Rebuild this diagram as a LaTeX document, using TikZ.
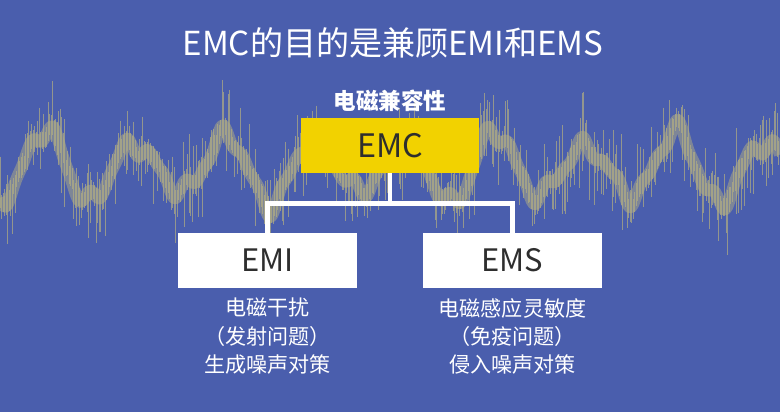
\documentclass[tikz,border=0pt]{standalone}
\usepackage{fontspec}
\setmainfont{Noto Sans CJK SC}
\usetikzlibrary{positioning}
\definecolor{bgblue}{HTML}{4A5EAD}
\definecolor{emcyellow}{HTML}{F2D200}
\definecolor{wavekhaki}{HTML}{B3AE82}
\definecolor{boxtext}{HTML}{2E2E2E}
\tikzset{every node/.style={align=center},
  box/.style={minimum width=4.45cm, minimum height=1.38cm, inner sep=0pt, text=boxtext, font=\fontsize{22pt}{24pt}\selectfont},
  link/.style={draw=white, line width=3.5pt},
  wave/.style={draw=wavekhaki, line width=0.55pt, opacity=0.7},
  band/.style={draw=wavekhaki, line width=0.3cm, opacity=0.5, line join=round},
  note/.style={text=white, font=\fontsize{15pt}{20pt}\selectfont}}
\newcommand{\sig}[1]{168+35*cos(4*#1)*(0.85+0.25*sin(1.7*#1))+7*sin(11*#1)+4*sin(19*#1)}

\begin{document}
\begin{tikzpicture}[x=0.025cm, y=-0.025cm]
            \useasboundingbox (0,0) rectangle (780,412);
            \fill[bgblue] (0,0) rectangle (780,412);
            % noisy signal behind the boxes
            \draw[band] plot[domain=0:780, samples=400] (\x, {\sig{\x}});
            \pgfmathsetseed{11}
            \foreach \i in {0,1.5,...,780}{
                \pgfmathsetmacro\yc{\sig{\i}+6*(rnd-0.5)}
                \pgfmathsetmacro\up{8+40*rnd^3}
                \pgfmathsetmacro\dn{8+40*rnd^3}
                \draw[wave] (\i,\yc-\up) -- (\i,\yc+\dn);
            }
            \node (title) [text=white, font=\fontsize{23.5pt}{26pt}\selectfont] at (393,43) {EMC的目的是兼顾EMI和EMS};
            \node [box, fill=emcyellow, font=\fontsize{23pt}{25pt}\selectfont] (emc) at (390,145.5) {EMC};
            \node (emcname) [above=0.03cm of emc, text=white, font=\bfseries\fontsize{16pt}{18pt}\selectfont] {电磁兼容性};
            \node [box, fill=white] (emi) at (267.5,260.5) {EMI};
            \node [box, fill=white] (ems) at (512.5,260.5) {EMS};
            \path[link] (emc.south) -- ++(0,30) -| (emi.north)
                (emc.south) -- ++(0,30) -| (ems.north);
            \node (emitxt) [note, below=0.12cm of emi] {电磁干扰\\（发射问题）\\生成噪声对策};
            \node (emstxt) [note, below=0.12cm of ems] {电磁感应灵敏度\\（免疫问题）\\侵入噪声对策};
        \end{tikzpicture}
\end{document}
